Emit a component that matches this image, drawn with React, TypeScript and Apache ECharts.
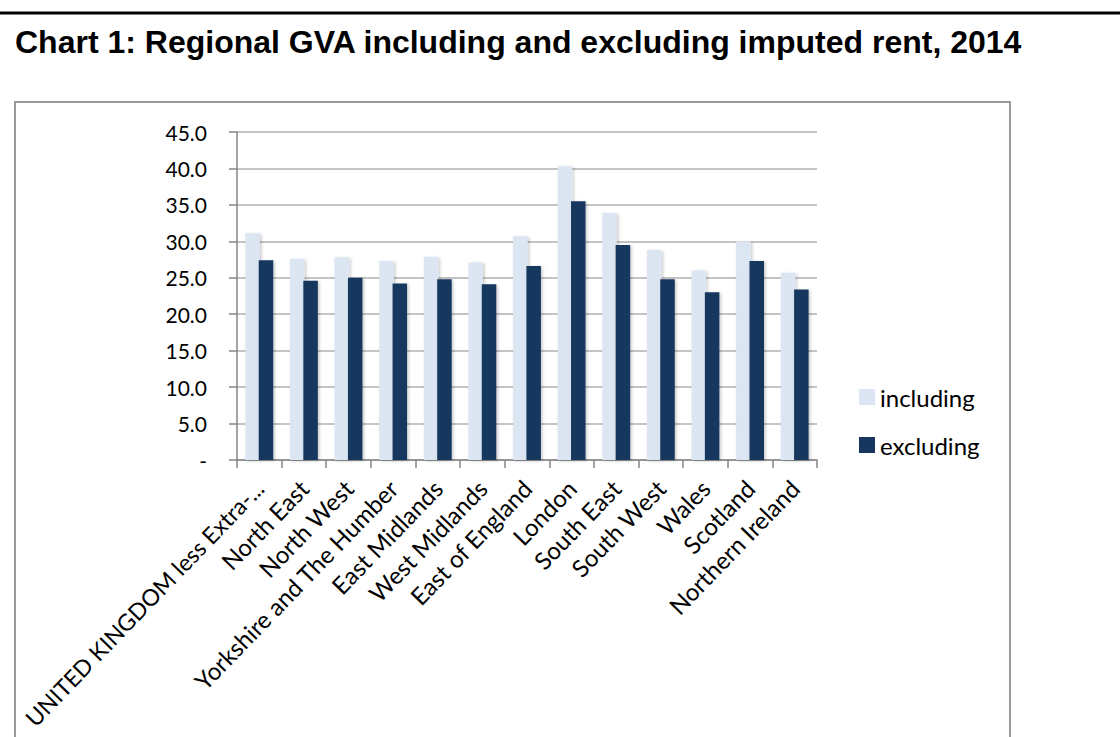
import React, { useEffect, useRef } from "react";
import * as echarts from "echarts";

const categories = [
  "UNITED KINGDOM less Extra-...",
  "North East",
  "North West",
  "Yorkshire and The Humber",
  "East Midlands",
  "West Midlands",
  "East of England",
  "London",
  "South East",
  "South West",
  "Wales",
  "Scotland",
  "Northern Ireland",
];

const including = [31.1, 27.6, 27.8, 27.3, 27.9, 27.1, 30.7, 40.3, 33.9, 28.8, 26.0, 30.0, 25.7];
const excluding = [27.4, 24.6, 25.0, 24.2, 24.8, 24.1, 26.6, 35.5, 29.5, 24.8, 23.0, 27.3, 23.4];

const titleText = "Chart 1: Regional GVA including and excluding imputed rent, 2014";
const labelFont = "Lato, 'Noto Sans', sans-serif";

export default function App() {
  const ref = useRef<HTMLDivElement>(null);

  useEffect(() => {
    if (!ref.current) return;
    const chart = echarts.init(ref.current, undefined, { renderer: "svg" });
    const shadow = {
      shadowColor: "rgba(0,0,0,0.22)",
      shadowBlur: 3,
      shadowOffsetX: 1.5,
      shadowOffsetY: 1,
    };
    chart.setOption({
      animation: false,
      backgroundColor: "#ffffff",
      title: {
        text: titleText,
        left: 10,
        top: 21,
        textStyle: {
          fontFamily: "'Liberation Sans', Arial, sans-serif",
          fontWeight: "bold",
          fontSize: 32,
          color: "#000000",
        },
      },
      graphic: [
        {
          type: "line",
          shape: { x1: 0, y1: 13, x2: 1120, y2: 13 },
          style: { stroke: "#000000", lineWidth: 3 },
          silent: true,
        },
        {
          type: "rect",
          shape: { x: 15, y: 102, width: 995, height: 700 },
          style: { fill: "none", stroke: "#9a9a9a", lineWidth: 2 },
          silent: true,
          z: -1,
        },
      ],
      legend: {
        orient: "vertical",
        left: 859,
        top: 385,
        padding: 0,
        itemWidth: 16,
        itemHeight: 16,
        itemGap: 24,
        icon: "rect",
        textStyle: { fontFamily: labelFont, fontSize: 24, lineHeight: 24, color: "#000000" },
        data: ["including", "excluding"],
      },
      grid: {
        left: 237,
        right: 303,
        top: 132,
        bottom: 277,
        containLabel: false,
        outerBoundsMode: "none",
      },
      xAxis: {
        type: "category",
        data: categories,
        axisLine: { show: true, lineStyle: { color: "#868686", width: 1.5 } },
        axisTick: { show: true, length: 8, lineStyle: { color: "#868686", width: 1.5 } },
        axisLabel: {
          rotate: 46,
          interval: 0,
          margin: 24,
          fontFamily: labelFont,
          fontSize: 24,
          color: "#000000",
          formatter: (v: string, i: number) => (i === 0 ? "{uk|" + v + "}" : v),
          rich: {
            uk: { fontFamily: labelFont, fontSize: 23, color: "#000000" },
          },
        },
        splitLine: { show: false },
      },
      yAxis: {
        type: "value",
        min: 0,
        max: 45,
        interval: 5,
        axisLine: { show: true, lineStyle: { color: "#868686", width: 1.5 } },
        axisTick: { show: true, length: 8, lineStyle: { color: "#868686", width: 1.5 } },
        axisLabel: {
          margin: 30,
          fontFamily: labelFont,
          fontSize: 21,
          color: "#000000",
          formatter: (v: number) => (v === 0 ? "-" : v.toFixed(1)),
        },
        splitLine: { show: true, lineStyle: { color: "#b0b0b0", width: 1.5 } },
      },
      series: [
        {
          name: "including",
          type: "bar",
          data: including,
          barWidth: 14.5,
          barGap: "-8%",
          itemStyle: { color: "#dce6f2", ...shadow },
        },
        {
          name: "excluding",
          type: "bar",
          data: excluding,
          barWidth: 14.5,
          barGap: "-8%",
          itemStyle: { color: "#17375e", ...shadow },
        },
      ],
    });
    return () => chart.dispose();
  }, []);

  return (
    <div
      ref={ref}
      style={{ position: "fixed", left: 0, top: 0, width: 1120, height: 737, background: "#fff" }}
    />
  );
}
